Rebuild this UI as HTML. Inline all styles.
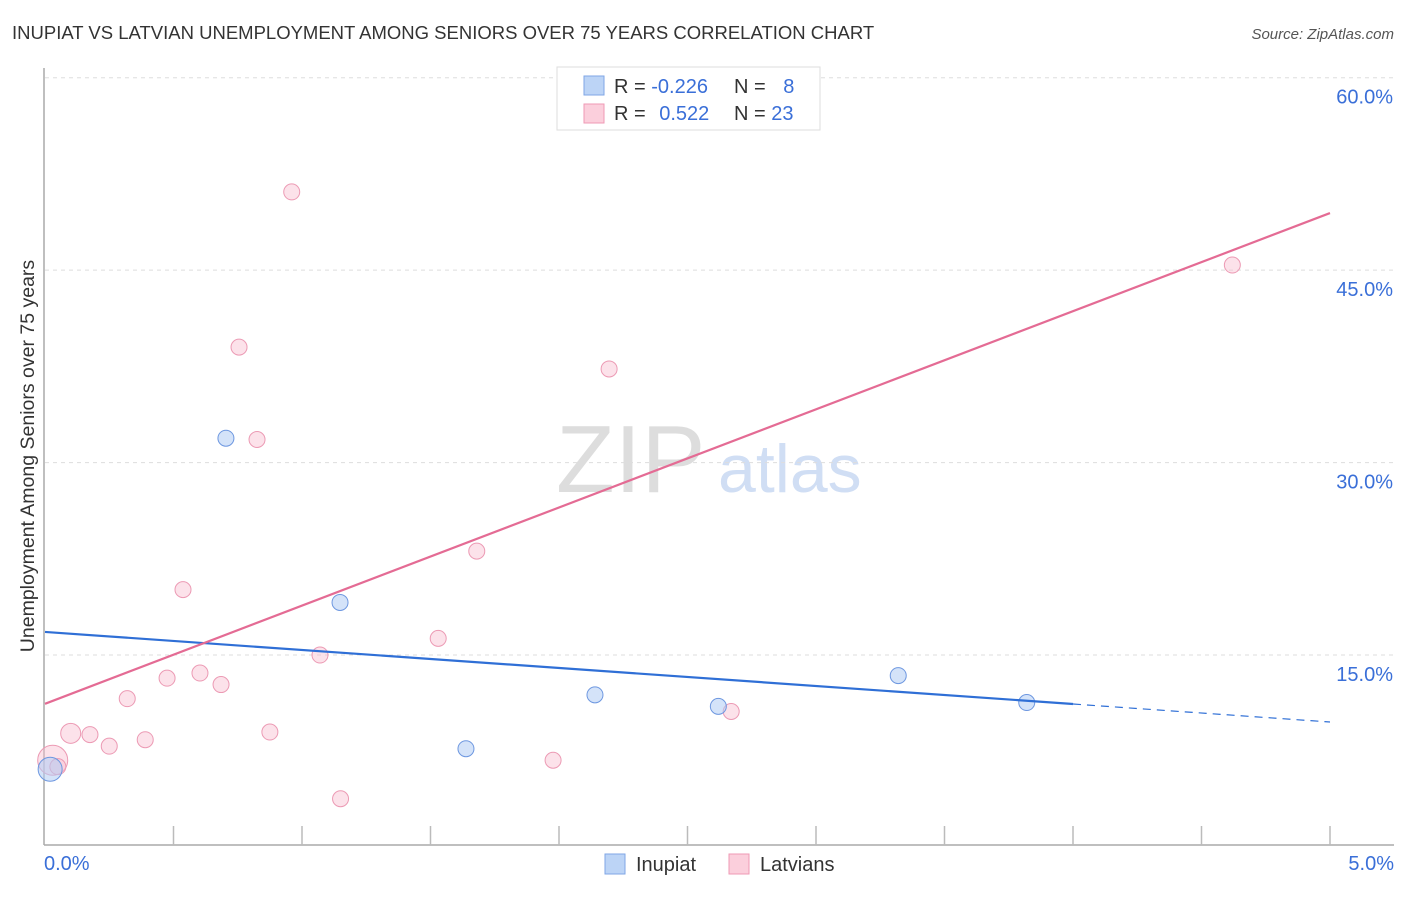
<!DOCTYPE html>
<html><head><meta charset="utf-8"><style>
body{margin:0;background:#fff;font-family:"Liberation Sans",sans-serif}
svg text{font-family:"Liberation Sans",sans-serif}
</style></head><body>
<svg width="1406" height="892">
<text x="12" y="39" font-size="18.5" fill="#333">INUPIAT VS LATVIAN UNEMPLOYMENT AMONG SENIORS OVER 75 YEARS CORRELATION CHART</text>
<text x="1394" y="39" font-size="15" fill="#555" font-style="italic" text-anchor="end">Source: ZipAtlas.com</text>
<text x="556" y="492" font-size="96" fill="#ddd" font-family="Liberation Serif">ZIP</text>
<text x="718" y="492" font-size="68" fill="#d0def4">atlas</text>
<g id="grid"></g>
<g id="axes"></g>
<g id="marks"></g>
<text transform="translate(34,456) rotate(-90)" font-size="19.5" fill="#333" text-anchor="middle">Unemployment Among Seniors over 75 years</text>
<text x="44" y="870" font-size="20" fill="#3a6fd8">0.0%</text>
<text x="1394" y="870" font-size="20" fill="#3a6fd8" text-anchor="end">5.0%</text>
<g>
<rect x="557" y="67" width="263" height="63" fill="#fff" stroke="#ddd"/>
<rect x="584" y="76" width="20" height="19" fill="#bcd4f6" stroke="#7fa6e6"/>
<rect x="584" y="104" width="20" height="19" fill="#fbcfdc" stroke="#ef9ab5"/>
<text x="614" y="93" font-size="20" fill="#333">R = <tspan fill="#3a6fd8">-0.226</tspan></text>
<text x="734" y="93" font-size="20" fill="#333">N = <tspan fill="#3a6fd8" dx="12">8</tspan></text>
<text x="614" y="120" font-size="20" fill="#333">R = <tspan fill="#3a6fd8" dx="8">0.522</tspan></text>
<text x="734" y="120" font-size="20" fill="#333">N = <tspan fill="#3a6fd8">23</tspan></text>
</g>
<g>
<rect x="605" y="854" width="20" height="20" fill="#bcd4f6" stroke="#7fa6e6"/>
<text x="636" y="871" font-size="20" fill="#333">Inupiat</text>
<rect x="729" y="854" width="20" height="20" fill="#fbcfdc" stroke="#ef9ab5"/>
<text x="760" y="871" font-size="20" fill="#333">Latvians</text>
</g>
</svg>
<script>
const yTicks=[15,30,45,60];
const yTickLabels=["15.0%","30.0%","45.0%","60.0%"];
const inupiatX=[0.02,0.704,1.148,1.638,2.14,2.62,3.32,3.82];
const inupiatY=[6.1,31.9,19.1,7.7,11.9,11.0,13.4,11.3];
const inupiatR=[12,8,8,8,8,8,8,8];
const latviansX=[0.03,0.10,0.175,0.25,0.32,0.39,0.475,0.537,0.603,0.685,0.755,0.825,0.875,0.96,1.07,1.15,1.53,1.68,1.977,2.195,2.67,4.62,0.05];
const latviansY=[6.8,8.9,8.8,7.9,11.6,8.4,13.2,20.1,13.6,12.7,39.0,31.8,9.0,51.1,15.0,3.8,16.3,23.1,6.8,37.3,10.6,45.4,6.3];
const latviansR=[15,10,8,8,8,8,8,8,8,8,8,8,8,8,8,8,8,8,8,8,8,8,8];
const inupiatTrend=[16.8,9.78]; // at x=0 and x=5
const inupiatSolidEnd=4.0;
const latviansTrend=[11.2,49.45];
const X=v=>45+v/5*1285, Y=v=>847.5-v*12.83;
const NS="http://www.w3.org/2000/svg";
function mk(t,a,p){const e=document.createElementNS(NS,t);for(const k in a)e.setAttribute(k,a[k]);document.getElementById(p).appendChild(e);return e;}
yTicks.forEach((t,i)=>{
 const l=mk('line',{x1:45,x2:1394,y1:Y(t),y2:Y(t),stroke:'#ddd','stroke-dasharray':'4,4'},'grid');
 
 
 const tx=mk('text',{x:1393,y:Y(t)+26,'font-size':20,fill:'#3a6fd8','text-anchor':'end'},'grid');
 tx.textContent=yTickLabels[i];
 
 
});
let a=mk('line',{x1:44,x2:44,y1:68,y2:845,stroke:'#aaa','stroke-width':1.5},'axes');


a=mk('line',{x1:44,x2:1394,y1:845,y2:845,stroke:'#aaa','stroke-width':1.5},'axes');


for(let i=1;i<=10;i++){const t=mk('line',{x1:X(i*0.5),x2:X(i*0.5),y1:826,y2:845,stroke:'#bbb','stroke-width':1.5},'axes');
 
 }
latviansX.forEach((x,i)=>{const c=mk('circle',{cx:X(x),cy:Y(latviansY[i]),r:latviansR[i],fill:'rgba(248,190,208,0.45)',stroke:'#ec9ab4','stroke-width':1},'marks');
 
 });
inupiatX.forEach((x,i)=>{const c=mk('circle',{cx:X(x),cy:Y(inupiatY[i]),r:inupiatR[i],fill:'rgba(176,204,244,0.55)',stroke:'#6d97e0','stroke-width':1},'marks');
 
 });
const iy=x=>inupiatTrend[0]+(inupiatTrend[1]-inupiatTrend[0])*x/5;
let l=mk('line',{x1:X(0),y1:Y(iy(0)),x2:X(inupiatSolidEnd),y2:Y(iy(inupiatSolidEnd)),stroke:'#2f6fd6','stroke-width':2.2},'marks');


l=mk('line',{x1:X(inupiatSolidEnd),y1:Y(iy(inupiatSolidEnd)),x2:X(5),y2:Y(iy(5)),stroke:'#2f6fd6','stroke-width':1.2,'stroke-dasharray':'8,6'},'marks');


l=mk('line',{x1:X(0),y1:Y(latviansTrend[0]),x2:X(5),y2:Y(latviansTrend[1]),stroke:'#e46b94','stroke-width':2.2},'marks');


</script>
</body></html>
